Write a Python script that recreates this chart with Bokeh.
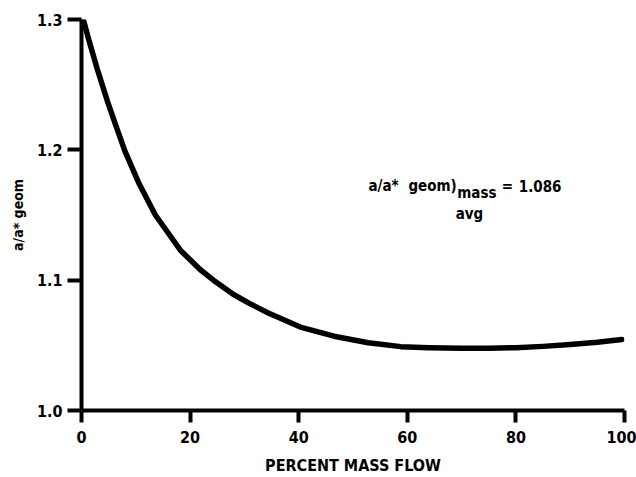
from bokeh.plotting import figure
from bokeh.models import Label, Range1d, FixedTicker, PrintfTickFormatter
from bokeh.embed import file_html
from bokeh.resources import INLINE

# --- data ---
mass_flow_pct = [0.4, 1.3, 2.9, 4.8, 6.3, 8.0, 10.5, 13.6, 16.0, 18.2, 21.9, 24.3,
                 28.0, 31.0, 34.3, 40.3, 46.5, 52.8, 58.8, 64.0, 70.0, 75.0, 80.0,
                 85.0, 90.0, 95.0, 99.5]
area_ratio = [1.299, 1.285, 1.262, 1.237, 1.219, 1.199, 1.175, 1.150, 1.136, 1.123,
              1.108, 1.100, 1.089, 1.082, 1.075, 1.064, 1.057, 1.052, 1.049, 1.0482,
              1.0477, 1.0477, 1.0482, 1.0492, 1.0506, 1.0524, 1.0545]
x_ticks = [0, 20, 40, 60, 80, 100]
y_ticks = [1.0, 1.1, 1.2, 1.3]

FONT = "DejaVu Sans Condensed"

p = figure(width=636, height=477, output_backend="svg", toolbar_location=None,
           x_range=Range1d(0, 100), y_range=Range1d(1.0, 1.3),
           min_border_left=81, min_border_right=12, min_border_top=19,
           min_border_bottom=67)
p.outline_line_color = None
p.xgrid.visible = False
p.ygrid.visible = False
p.background_fill_color = "white"
p.border_fill_color = "white"

p.line(mass_flow_pct, area_ratio, line_width=5.5, color="black",
       line_cap="round", line_join="round")

for ax in (p.xaxis[0], p.yaxis[0]):
    ax.axis_line_width = 4
    ax.axis_line_color = "black"
    ax.major_tick_line_width = 4
    ax.major_tick_line_color = "black"
    ax.minor_tick_line_color = None
    ax.major_tick_in = 0
    ax.major_label_text_font = FONT
    ax.major_label_text_font_style = "bold"
    ax.major_label_text_font_size = "16px"
    ax.major_label_text_color = "black"
    ax.axis_label_text_font = FONT
    ax.axis_label_text_font_style = "bold"
    ax.axis_label_text_color = "black"

p.xaxis.ticker = FixedTicker(ticks=x_ticks)
p.yaxis.ticker = FixedTicker(ticks=y_ticks)
p.yaxis.formatter = PrintfTickFormatter(format="%.1f")

p.xaxis.major_tick_out = 12
p.xaxis.major_label_standoff = 8
p.xaxis.axis_label = "PERCENT MASS FLOW"
p.xaxis.axis_label_text_font_size = "16px"
p.xaxis.axis_label_standoff = 10

p.yaxis.major_tick_out = 14
p.yaxis.major_label_standoff = 5
p.yaxis.axis_label = "a/a* geom"
p.yaxis.axis_label_text_font_size = "14px"
p.yaxis.axis_label_standoff = 8

ann_style = dict(text_font=FONT, text_font_style="bold", text_font_size="15px",
                 text_color="black", text_baseline="alphabetic", text_align="left")
p.add_layout(Label(x=52.85, y=1.1726, text="a/a*", **ann_style))
p.add_layout(Label(x=60.2, y=1.1726, text="geom)", **ann_style))
p.add_layout(Label(x=69.2, y=1.1672, text="mass", **ann_style))
eq_style = dict(ann_style, text_align="center")
p.add_layout(Label(x=78.45, y=1.1726, text="=", **eq_style))
val_style = dict(ann_style, text_align="right")
p.add_layout(Label(x=88.4, y=1.1726, text="1.086", **val_style))
p.add_layout(Label(x=68.9, y=1.1511, text="avg", **ann_style))

open("out.html", "w").write(file_html(p, INLINE))
